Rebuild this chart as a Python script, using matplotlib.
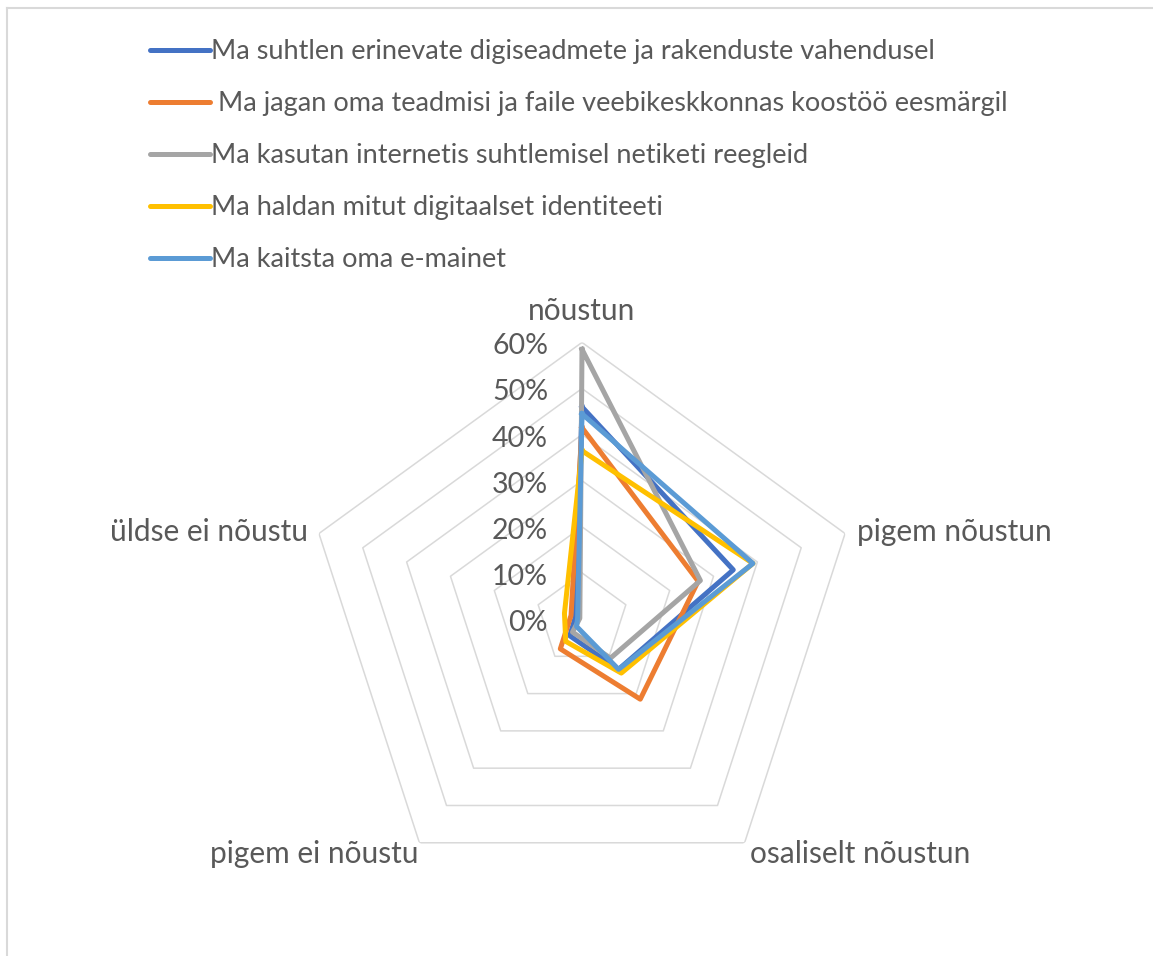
import numpy as np
import matplotlib
matplotlib.use('Agg')
import matplotlib.pyplot as plt
from matplotlib.lines import Line2D
from matplotlib.transforms import offset_copy

plt.rcParams['font.family'] = ['Lato', 'DejaVu Sans']

# andmed (protsendid), telgede järjekord päripäeva alates ülevalt
categories = ['nõustun', 'pigem nõustun', 'osaliselt nõustun', 'pigem ei nõustu', 'üldse ei nõustu']
series_names = ['Ma suhtlen erinevate digiseadmete ja rakenduste vahendusel',
                ' Ma jagan oma teadmisi ja faile veebikeskkonnas koostöö eesmärgil',
                'Ma kasutan internetis suhtlemisel netiketi reegleid',
                'Ma haldan mitut digitaalset identiteeti',
                'Ma kaitsta oma e-mainet']
suhtlen = [46, 34.5, 13.5, 4.5, 1.5]
jagan = [41.5, 26.5, 21.5, 8, 2.5]
netikett = [58.5, 27, 10.5, 3.5, 0.5]
identiteet = [36.5, 39, 14.5, 6, 4]
e_maine = [44.5, 39, 13.5, 2, 1]
r_ticks = [0, 10, 20, 30, 40, 50, 60]
r_labels = ['0%', '10%', '20%', '30%', '40%', '50%', '60%']

colors = ['#4472C4', '#ED7D31', '#A5A5A5', '#FFC000', '#5B9BD5']
text_col = '#595959'
grid_col = '#D9D9D9'

W, H = 1153, 956
fig = plt.figure(figsize=(W / 100, H / 100), dpi=100)

# raam (ainult ülemine ja vasak serv on näha)
fig.add_artist(Line2D([7 / W, 1], [1 - 8 / H, 1 - 8 / H], color=grid_col, lw=1.5))
fig.add_artist(Line2D([7 / W, 7 / W], [0, 1 - 8 / H], color=grid_col, lw=1.5))

cx, cy, R = 582, 619, 276.6
ax = fig.add_axes([(cx - R) / W, (H - cy - R) / H, 2 * R / W, 2 * R / H], projection='polar')
ax.set_theta_zero_location('N')
ax.set_theta_direction(-1)
ax.set_ylim(0, 60)
ax.grid(False)
ax.spines['polar'].set_visible(False)
ax.set_xticks([])
ax.set_yticks([])
ax.patch.set_alpha(0)

angles = np.linspace(0, 2 * np.pi, len(categories), endpoint=False)
closed = np.append(angles, angles[0])

# viisnurkne võrk
for t in r_ticks[1:]:
    ax.plot(closed, [t] * len(closed), color=grid_col, lw=1.1, zorder=1)

all_series = [suhtlen, jagan, netikett, identiteet, e_maine]
for vals, col in zip(all_series, colors):
    ax.plot(closed, vals + vals[:1], color=col, lw=3.6, solid_joinstyle='round', zorder=3)

# telje sildid
for t, lab in zip(r_ticks, r_labels):
    tr = offset_copy(ax.transData, fig=fig, x=-34, y=-4, units='dots')
    ax.text(0, t, lab, transform=tr, ha='right', va='center', fontsize=20.5, color=text_col)

cat_pos = [(0, 31, 'center'), (12, 2, 'left'), (5, -11, 'left'), (-1, -11, 'right'), (-11, 2, 'right')]
for ang, lab, (dx, dy, ha) in zip(angles, categories, cat_pos):
    tr = offset_copy(ax.transData, fig=fig, x=dx, y=dy, units='dots')
    ax.text(ang, 60, lab, transform=tr, ha=ha, va='center', fontsize=21.5, color=text_col)

handles = [Line2D([], [], color=c, lw=3.6, solid_capstyle='round') for c in colors]
fig.legend(handles, series_names, loc='upper left', bbox_to_anchor=(150 / W, 1 - 39 / H),
           frameon=False, fontsize=19.5, labelcolor=text_col, handlelength=2.2,
           handletextpad=0.07, labelspacing=1.0, borderpad=0, borderaxespad=0)

fig.savefig('out.png', dpi=100)
